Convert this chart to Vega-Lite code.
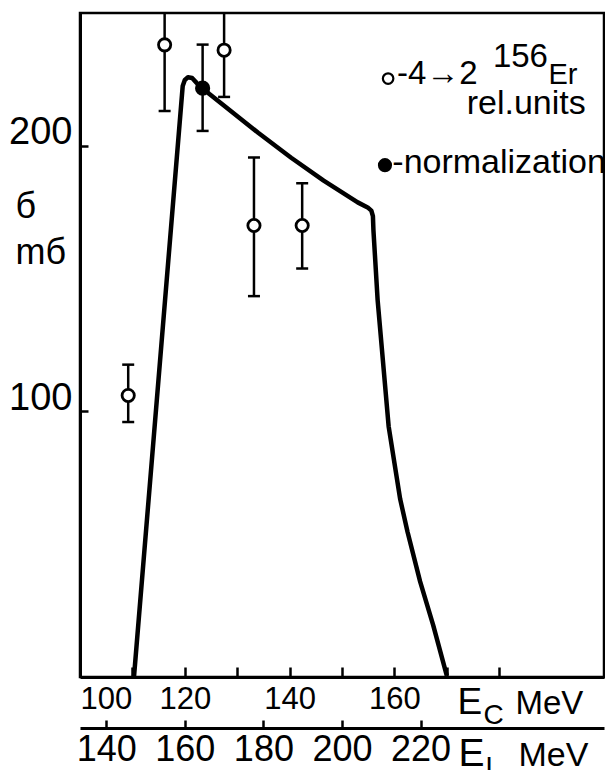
{
  "$schema": "https://vega.github.io/schema/vega-lite/v6.json",
  "width": 524,
  "height": 664,
  "autosize": "none",
  "padding": {"left": 80, "top": 13, "right": 1, "bottom": 93},
  "background": "white",
  "config": {
    "view": {"stroke": "black", "strokeWidth": 2.5},
    "font": "Liberation Sans, sans-serif",
    "axis": {
      "grid": false,
      "domainColor": "black",
      "domainWidth": 3,
      "tickColor": "black",
      "tickWidth": 2.5,
      "labelColor": "black",
      "titleColor": "black",
      "titleFontWeight": "normal",
      "labelFont": "Liberation Sans, sans-serif",
      "titleFont": "Liberation Sans, sans-serif"
    }
  },
  "datasets": {
    "curve": [
      {"Ec": 110.3, "sigma": 0},
      {"Ec": 119.6, "sigma": 222.5},
      {"Ec": 120.0, "sigma": 224.8},
      {"Ec": 120.6, "sigma": 225.8},
      {"Ec": 121.4, "sigma": 225.5},
      {"Ec": 122.3, "sigma": 223.6},
      {"Ec": 123.4, "sigma": 221.7},
      {"Ec": 124.7, "sigma": 219.5},
      {"Ec": 134.0, "sigma": 204.9},
      {"Ec": 140.3, "sigma": 195.5},
      {"Ec": 146.5, "sigma": 186.9},
      {"Ec": 153.0, "sigma": 178.7},
      {"Ec": 154.9, "sigma": 176.8},
      {"Ec": 155.6, "sigma": 175.6},
      {"Ec": 155.9, "sigma": 173.5},
      {"Ec": 156.0, "sigma": 168.2},
      {"Ec": 156.8, "sigma": 141.9},
      {"Ec": 158.9, "sigma": 94.4},
      {"Ec": 161.1, "sigma": 67.0},
      {"Ec": 162.5, "sigma": 54.7},
      {"Ec": 164.9, "sigma": 36.0},
      {"Ec": 167.4, "sigma": 19.5},
      {"Ec": 170.0, "sigma": 0.5}
    ],
    "pts": [
      {"Ec": 109.2, "sigma": 106.0, "lo": 96.0, "hi": 117.6, "kind": "open"},
      {"Ec": 116.15, "sigma": 238.0, "lo": 213.1, "hi": 262.9, "kind": "open"},
      {"Ec": 123.4, "sigma": 221.7, "lo": 205.6, "hi": 238.1, "kind": "filled"},
      {"Ec": 127.5, "sigma": 236.0, "lo": 218.4, "hi": 253.6, "kind": "open"},
      {"Ec": 133.2, "sigma": 170.0, "lo": 143.4, "hi": 195.6, "kind": "open"},
      {"Ec": 142.4, "sigma": 170.0, "lo": 153.8, "hi": 185.9, "kind": "open"}
    ]
  },
  "data": {"name": "curve"},
  "resolve": {"axis": {"x": "independent", "y": "independent"}},
  "layer": [
    {
      "mark": {"type": "point", "opacity": 0},
      "encoding": {
        "x": {"field": "Ec", "type": "quantitative", "scale": {"domain": [100, 200], "nice": false, "zero": false}, "axis": null},
        "y": {
          "field": "sigma", "type": "quantitative",
          "scale": {"domain": [0, 250], "nice": false, "zero": false},
          "axis": {
            "orient": "left",
            "values": [100, 200],
            "tickSize": -8,
            "labelPadding": 16,
            "labelBaseline": "alphabetic",
            "labelOffset": -2,
            "labelFontSize": 38,
            "title": ["б", "mб"],
            "titleAngle": 0,
            "titleX": -65,
            "titleY": 204,
            "titleAlign": "left",
            "titleBaseline": "alphabetic",
            "titleFontSize": 36,
            "titleLineHeight": 46
          }
        }
      }
    },
    {
      "mark": {"type": "line", "color": "black", "strokeWidth": 4.5, "strokeJoin": "round"},
      "encoding": {
        "x": {
          "field": "Ec", "type": "quantitative",
          "scale": {"domain": [100, 200], "nice": false, "zero": false},
          "axis": {
            "orient": "bottom",
            "values": [100, 110, 120, 130, 140, 150, 160, 170, 180],
            "labelExpr": "datum.value % 20 == 0 && datum.value <= 160 ? datum.label : ''",
            "tickSize": -10,
            "labelPadding": 17,
            "labelFontSize": 31,
            "labelFlush": true,
            "title": "E",
            "titleX": 377,
            "titleY": 36,
            "titleAlign": "left",
            "titleBaseline": "alphabetic",
            "titleFontSize": 37
          }
        },
        "y": {"field": "sigma", "type": "quantitative", "scale": {"domain": [0, 250], "nice": false, "zero": false}, "axis": null}
      }
    },
    {
      "data": {"name": "pts"},
      "mark": {"type": "rule", "color": "black", "strokeWidth": 2.5, "clip": true},
      "encoding": {
        "x": {"field": "Ec", "type": "quantitative", "scale": {"domain": [100, 200], "nice": false, "zero": false}, "axis": null},
        "y": {"field": "lo", "type": "quantitative", "scale": {"domain": [0, 250], "nice": false, "zero": false}, "axis": null},
        "y2": {"field": "hi"}
      }
    },
    {
      "data": {"name": "pts"},
      "mark": {"type": "tick", "orient": "horizontal", "color": "black", "size": 12, "thickness": 2.5, "opacity": 1, "clip": true},
      "encoding": {
        "x": {"field": "Ec", "type": "quantitative", "scale": {"domain": [100, 200], "nice": false, "zero": false}, "axis": null},
        "y": {"field": "lo", "type": "quantitative", "scale": {"domain": [0, 250], "nice": false, "zero": false}, "axis": null}
      }
    },
    {
      "data": {"name": "pts"},
      "mark": {"type": "tick", "orient": "horizontal", "color": "black", "size": 12, "thickness": 2.5, "opacity": 1, "clip": true},
      "encoding": {
        "x": {"field": "Ec", "type": "quantitative", "scale": {"domain": [100, 200], "nice": false, "zero": false}, "axis": null},
        "y": {"field": "hi", "type": "quantitative", "scale": {"domain": [0, 250], "nice": false, "zero": false}, "axis": null}
      }
    },
    {
      "data": {"name": "pts"},
      "transform": [{"filter": "datum.kind == 'open'"}],
      "mark": {"type": "point", "shape": "circle", "filled": false, "fill": "white", "fillOpacity": 1, "stroke": "black", "strokeWidth": 2.8, "size": 150, "opacity": 1},
      "encoding": {
        "x": {"field": "Ec", "type": "quantitative", "scale": {"domain": [100, 200], "nice": false, "zero": false}, "axis": null},
        "y": {"field": "sigma", "type": "quantitative", "scale": {"domain": [0, 250], "nice": false, "zero": false}, "axis": null}
      }
    },
    {
      "data": {"name": "pts"},
      "transform": [{"filter": "datum.kind == 'filled'"}],
      "mark": {"type": "circle", "color": "black", "size": 230, "opacity": 1},
      "encoding": {
        "x": {"field": "Ec", "type": "quantitative", "scale": {"domain": [100, 200], "nice": false, "zero": false}, "axis": null},
        "y": {"field": "sigma", "type": "quantitative", "scale": {"domain": [0, 250], "nice": false, "zero": false}, "axis": null}
      }
    },
    {
      "data": {"values": [{"Ec": 158.8, "sigma": 225.3}]},
      "mark": {"type": "point", "shape": "circle", "filled": false, "fill": "white", "fillOpacity": 1, "stroke": "black", "strokeWidth": 2.2, "size": 110, "opacity": 1},
      "encoding": {
        "x": {"field": "Ec", "type": "quantitative", "scale": {"domain": [100, 200], "nice": false, "zero": false}, "axis": null},
        "y": {"field": "sigma", "type": "quantitative", "scale": {"domain": [0, 250], "nice": false, "zero": false}, "axis": null}
      }
    },
    {
      "data": {"values": [{"Ec": 158.2, "sigma": 192.7}]},
      "mark": {"type": "circle", "color": "black", "size": 200, "opacity": 1},
      "encoding": {
        "x": {"field": "Ec", "type": "quantitative", "scale": {"domain": [100, 200], "nice": false, "zero": false}, "axis": null},
        "y": {"field": "sigma", "type": "quantitative", "scale": {"domain": [0, 250], "nice": false, "zero": false}, "axis": null}
      }
    },
    {
      "data": {"values": [{"Ec": 160.5, "sigma": 223.2, "label": "-4→2"}]},
      "mark": {"type": "text", "align": "left", "baseline": "alphabetic", "fontSize": 33, "color": "black"},
      "encoding": {
        "x": {"field": "Ec", "type": "quantitative", "scale": {"domain": [100, 200], "nice": false, "zero": false}, "axis": null},
        "y": {"field": "sigma", "type": "quantitative", "scale": {"domain": [0, 250], "nice": false, "zero": false}, "axis": null},
        "text": {"field": "label"}
      }
    },
    {
      "data": {"values": [{"Ec": 178.8, "sigma": 229.5, "label": "156"}]},
      "mark": {"type": "text", "align": "left", "baseline": "alphabetic", "fontSize": 33, "color": "black"},
      "encoding": {
        "x": {"field": "Ec", "type": "quantitative", "scale": {"domain": [100, 200], "nice": false, "zero": false}, "axis": null},
        "y": {"field": "sigma", "type": "quantitative", "scale": {"domain": [0, 250], "nice": false, "zero": false}, "axis": null},
        "text": {"field": "label"}
      }
    },
    {
      "data": {"values": [{"Ec": 189.4, "sigma": 223.2, "label": "Er"}]},
      "mark": {"type": "text", "align": "left", "baseline": "alphabetic", "fontSize": 29, "color": "black"},
      "encoding": {
        "x": {"field": "Ec", "type": "quantitative", "scale": {"domain": [100, 200], "nice": false, "zero": false}, "axis": null},
        "y": {"field": "sigma", "type": "quantitative", "scale": {"domain": [0, 250], "nice": false, "zero": false}, "axis": null},
        "text": {"field": "label"}
      }
    },
    {
      "data": {"values": [{"Ec": 173.8, "sigma": 212.0, "label": "rel.units"}, {"Ec": 159.6, "sigma": 189.9, "label": "-normalization"}]},
      "mark": {"type": "text", "align": "left", "baseline": "alphabetic", "fontSize": 34, "color": "black"},
      "encoding": {
        "x": {"field": "Ec", "type": "quantitative", "scale": {"domain": [100, 200], "nice": false, "zero": false}, "axis": null},
        "y": {"field": "sigma", "type": "quantitative", "scale": {"domain": [0, 250], "nice": false, "zero": false}, "axis": null},
        "text": {"field": "label"}
      }
    },
    {
      "mark": {"type": "point", "opacity": 0},
      "encoding": {
        "x": {
          "field": "Ec", "type": "quantitative",
          "scale": {"domain": [100, 200], "nice": false, "zero": false},
          "axis": {
            "orient": "bottom",
            "offset": 51,
            "values": [105, 120, 135, 150, 165],
            "labelExpr": "format(160 + (datum.value - 120) * 4 / 3, 'd')",
            "tickSize": -8,
            "labelPadding": 12,
            "labelFontSize": 36,
            "title": "E",
            "titleX": 378,
            "titleY": 37,
            "titleAlign": "left",
            "titleBaseline": "alphabetic",
            "titleFontSize": 39
          }
        },
        "y": {"field": "sigma", "type": "quantitative", "scale": {"domain": [0, 250], "nice": false, "zero": false}, "axis": null}
      }
    },
    {
      "mark": {"type": "point", "opacity": 0},
      "encoding": {
        "x": {
          "field": "Ec", "type": "quantitative",
          "scale": {"domain": [100, 200], "nice": false, "zero": false},
          "axis": {"orient": "bottom", "domain": false, "ticks": false, "labels": false, "title": "C", "titleX": 403, "titleY": 46, "titleAlign": "left", "titleBaseline": "alphabetic", "titleFontSize": 28}
        },
        "y": {"field": "sigma", "type": "quantitative", "scale": {"domain": [0, 250], "nice": false, "zero": false}, "axis": null}
      }
    },
    {
      "mark": {"type": "point", "opacity": 0},
      "encoding": {
        "x": {
          "field": "Ec", "type": "quantitative",
          "scale": {"domain": [100, 200], "nice": false, "zero": false},
          "axis": {"orient": "bottom", "domain": false, "ticks": false, "labels": false, "title": "MeV", "titleX": 435, "titleY": 36, "titleAlign": "left", "titleBaseline": "alphabetic", "titleFontSize": 33}
        },
        "y": {"field": "sigma", "type": "quantitative", "scale": {"domain": [0, 250], "nice": false, "zero": false}, "axis": null}
      }
    },
    {
      "mark": {"type": "point", "opacity": 0},
      "encoding": {
        "x": {
          "field": "Ec", "type": "quantitative",
          "scale": {"domain": [100, 200], "nice": false, "zero": false},
          "axis": {"orient": "bottom", "offset": 51, "domain": false, "ticks": false, "labels": false, "title": "L", "titleX": 405, "titleY": 47, "titleAlign": "left", "titleBaseline": "alphabetic", "titleFontSize": 28}
        },
        "y": {"field": "sigma", "type": "quantitative", "scale": {"domain": [0, 250], "nice": false, "zero": false}, "axis": null}
      }
    },
    {
      "mark": {"type": "point", "opacity": 0},
      "encoding": {
        "x": {
          "field": "Ec", "type": "quantitative",
          "scale": {"domain": [100, 200], "nice": false, "zero": false},
          "axis": {"orient": "bottom", "offset": 51, "domain": false, "ticks": false, "labels": false, "title": "MeV", "titleX": 438, "titleY": 37, "titleAlign": "left", "titleBaseline": "alphabetic", "titleFontSize": 34}
        },
        "y": {"field": "sigma", "type": "quantitative", "scale": {"domain": [0, 250], "nice": false, "zero": false}, "axis": null}
      }
    }
  ]
}
